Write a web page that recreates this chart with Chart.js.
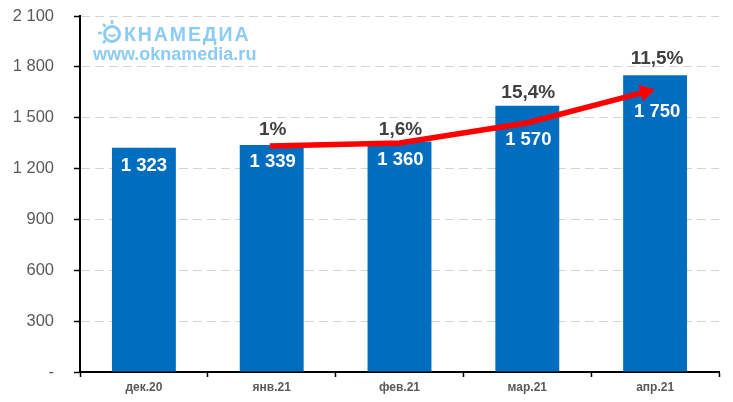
<!DOCTYPE html>
<html><head><meta charset="utf-8">
<script src="https://cdn.jsdelivr.net/npm/chart.js@4"></script>
<style>
html,body{margin:0;padding:0;background:#fff;width:733px;height:402px;overflow:hidden}
#w{position:relative;width:733px;height:402px}
canvas{position:absolute;left:0;top:0}
.logo{position:absolute;font-family:"Liberation Sans",Arial,sans-serif;font-weight:bold;color:#8ccbf3;white-space:nowrap}
</style></head><body>
<div id="w"><canvas id="c" width="733" height="402"></canvas>
<svg class="logo" style="left:96px;top:19px" width="32" height="28" viewBox="0 0 32 28">
<circle cx="16" cy="15" r="7.5" fill="none" stroke="#8ccbf3" stroke-width="3"/>
<path d="M12.5 15.5q3.5 3 7 0" fill="none" stroke="#8ccbf3" stroke-width="2"/>
<path d="M2 14h4M7 5l2.5 2.5M16 1v4M7 24l2.5-2.5" stroke="#8ccbf3" stroke-width="2.5" fill="none"/>
</svg>
<div class="logo" style="left:124px;top:23px;font-size:19.5px;letter-spacing:1.9px;line-height:22px">КНАМЕДИА</div>
<div class="logo" style="left:93px;top:43px;font-size:18px;line-height:22px">www.oknamedia.ru</div>
</div>
<script>
const categories = ["дек.20","янв.21","фев.21","мар.21","апр.21"];
const values = [1323,1339,1360,1570,1750];
const valueLabels = ["1 323","1 339","1 360","1 570","1 750"];
const growthLabels = ["","1%","1,6%","15,4%","11,5%"];
const yTickLabels = {0:"-",300:"300",600:"600",900:"900",1200:"1 200",1500:"1 500",1800:"1 800",2100:"2 100"};
const arrowX = [0.985,2.0,2.995,3.925];
const arrowY = [1333,1351,1469,1652];

const valueDrop = [18,17,18,34,37];
const growthRise = [0,15,12,13,17];
const labelShift = [0,1,1,1,2];

const labelsPlugin = {
  id:"barLabels",
  afterDatasetDraw(chart,args){
    if(args.index!==0) return;
    const ctx=chart.ctx, meta=chart.getDatasetMeta(0);
    ctx.save();
    ctx.textAlign="center";ctx.textBaseline="middle";
    meta.data.forEach((b,i)=>{
      ctx.font='bold 18.5px "Liberation Sans"';
      ctx.fillStyle="#fff";
      ctx.fillText(valueLabels[i],b.x+labelShift[i],b.y+valueDrop[i]);
      if(growthLabels[i]){
        ctx.font='bold 19px "Liberation Sans"';
        ctx.fillStyle="#404040";
        ctx.fillText(growthLabels[i],b.x+labelShift[i],b.y-growthRise[i]);
      }
    });
    ctx.restore();
  }
};

new Chart(document.getElementById("c"),{
  data:{
    labels:categories,
    datasets:[
      {type:"bar",data:values,backgroundColor:"#006dbe",barPercentage:0.5,categoryPercentage:1,grouped:false,order:2,xAxisID:"x",yAxisID:"y"},
      {type:"line",data:arrowX.map((x,i)=>({x,y:arrowY[i]})),xAxisID:"xa",yAxisID:"y",order:1,
       borderColor:"#ff0000",borderWidth:5.5,tension:0,fill:false,
       pointStyle:"triangle",
       pointRadius:arrowX.map((_,i)=>i===arrowX.length-1?10:0),
       pointRotation:arrowX.map((_,i)=>i===arrowX.length-1?76:0),
       pointBackgroundColor:"#ff0000",pointBorderColor:"#ff0000",pointBorderWidth:0}
    ]
  },
  options:{
    responsive:false,animation:false,
    devicePixelRatio:1,
    layout:{padding:{left:0,right:14,top:16,bottom:0}},
    plugins:{legend:{display:false},tooltip:{enabled:false}},
    scales:{
      xa:{type:"linear",min:-0.5,max:4.5,display:false},
      x:{type:"category",offset:true,
        afterFit(s){s.height=30;},
        border:{color:"#000",width:2},
        grid:{drawOnChartArea:false,drawTicks:true,tickLength:5,tickColor:"#000",tickWidth:1.5},
        ticks:{color:"#595959",font:{family:"Liberation Sans",size:12,weight:"bold"},padding:3,maxRotation:0}
      },
      y:{min:0,max:2100,
        afterFit(s){s.width=80;s.paddingTop=0;s.paddingBottom=0;},
        afterBuildTicks(s){s.ticks=Object.keys(yTickLabels).map(v=>({value:+v}));},
        border:{color:"#000",width:2,dash:[9,5]},
        grid:{color:"#d4d4d4",lineWidth:1,drawTicks:true,tickLength:6,tickColor:"#000",tickWidth:1.5,tickBorderDash:[]},
        ticks:{color:"#595959",font:{family:"Liberation Sans",size:16.5},padding:20,callback:v=>yTickLabels[v]}
      }
    }
  },
  plugins:[labelsPlugin]
});
</script>
</body></html>
